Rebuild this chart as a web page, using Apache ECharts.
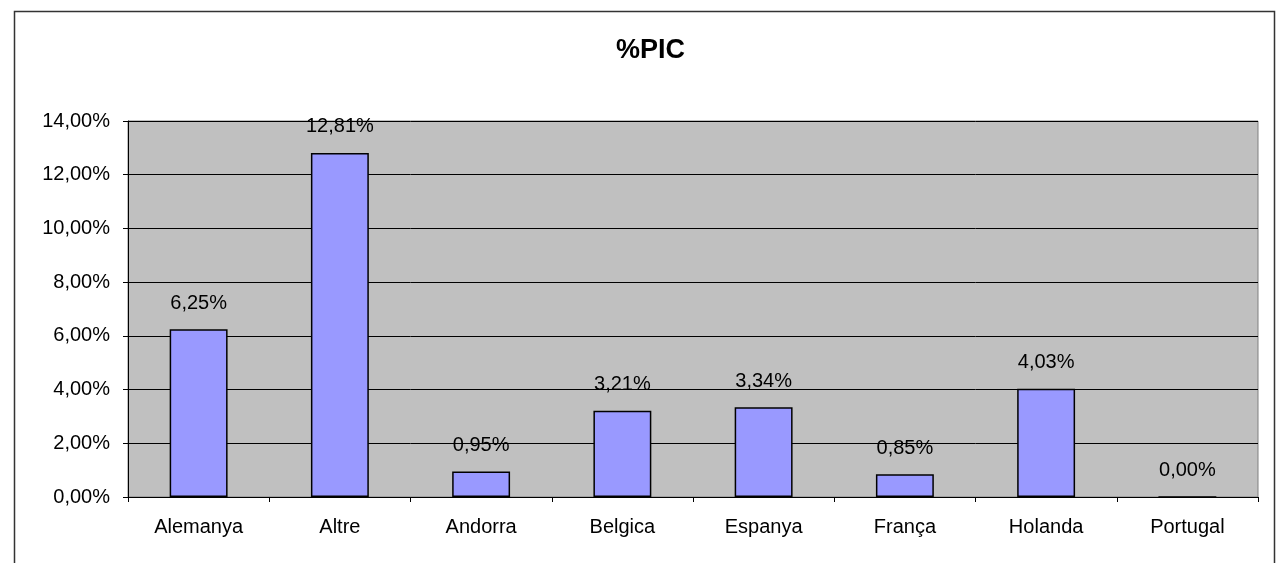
<!DOCTYPE html>
<html>
<head>
<meta charset="utf-8">
<script src="https://cdn.jsdelivr.net/npm/echarts@6/dist/echarts.min.js"></script>
<style>
  html, body { margin: 0; padding: 0; background: #fff; }
  #chart { width: 1276px; height: 563px; }
</style>
</head>
<body>
<div id="chart"></div>
<script>
var countries = ['Alemanya', 'Altre', 'Andorra', 'Belgica', 'Espanya', 'França', 'Holanda', 'Portugal'];
var picValues = [6.25, 12.81, 0.95, 3.21, 3.34, 0.85, 4.03, 0.00];

function pct(v) {
    return v.toFixed(2).replace('.', ',') + '%';
}

var chart = echarts.init(document.getElementById('chart'));
var font = 'Liberation Sans, Arial, sans-serif';

var option = {
    animation: false,
    backgroundColor: '#fff',
    title: {
        text: '%PIC',
        left: 611,
        top: 32,
        textStyle: { fontFamily: font, fontSize: 27, fontWeight: 'bold', color: '#000' }
    },
    graphic: [{
        type: 'rect',
        shape: { x: 14.5, y: 11.5, width: 1260, height: 560 },
        style: { fill: 'none', stroke: '#333', lineWidth: 1.5 },
        silent: true
    }],
    grid: {
        left: 128, right: 18, top: 121, bottom: 66,
        show: true,
        backgroundColor: '#C0C0C0',
        borderColor: '#808080',
        borderWidth: 1
    },
    xAxis: {
        type: 'category',
        data: countries,
        axisLine: { lineStyle: { color: '#000', width: 1 } },
        axisTick: { show: true, length: 5, lineStyle: { color: '#000' } },
        axisLabel: { fontFamily: font, fontSize: 20, color: '#000', margin: 20 }
    },
    yAxis: {
        type: 'value',
        min: 0,
        max: 14,
        interval: 2,
        axisLine: { show: true, lineStyle: { color: '#000', width: 1 } },
        axisTick: { show: true, length: 5, lineStyle: { color: '#000' } },
        splitLine: { lineStyle: { color: '#000', width: 1 } },
        axisLabel: {
            fontFamily: font, fontSize: 20, color: '#000', margin: 18,
            formatter: function (v) { return pct(v); }
        }
    },
    series: [{
        type: 'bar',
        data: picValues,
        barWidth: '41%',
        itemStyle: { color: '#9999FF', borderColor: '#000', borderWidth: 1.5 },
        label: {
            show: true,
            position: 'top',
            distance: 16,
            fontFamily: font,
            fontSize: 20,
            color: '#000',
            formatter: function (p) { return pct(p.value); }
        }
    }]
};

chart.setOption(option);
</script>
</body>
</html>
